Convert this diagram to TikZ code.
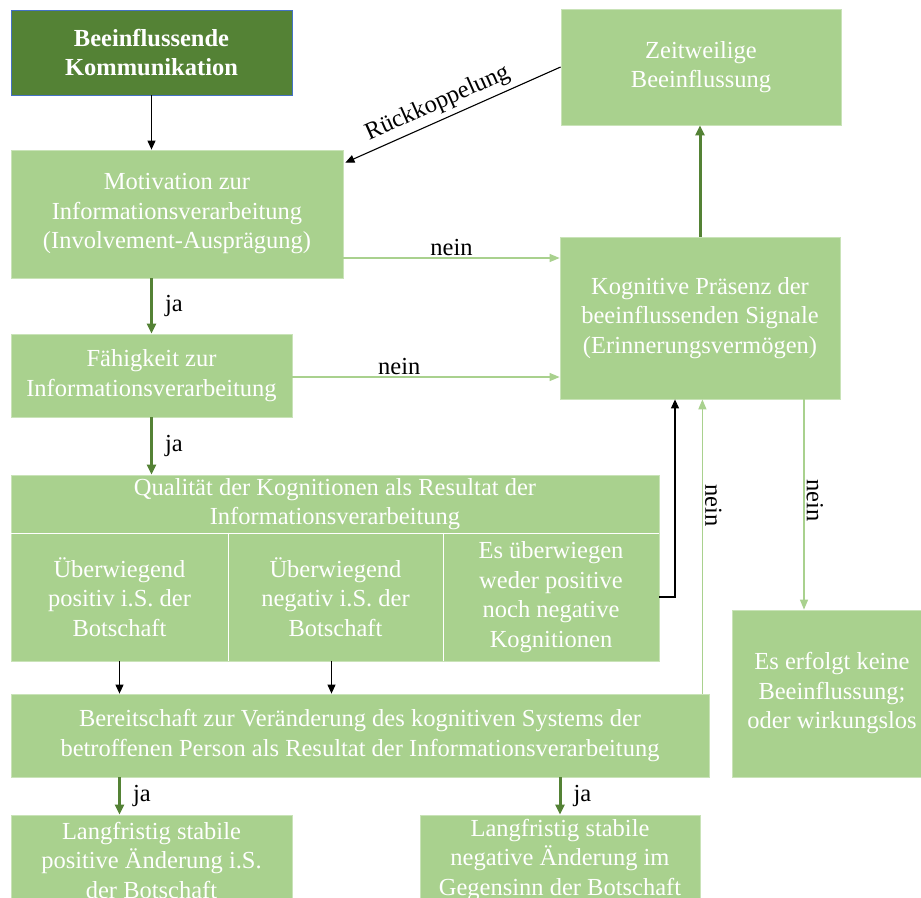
\documentclass[tikz,border=0pt]{standalone}
\usepackage{fontspec}
\setmainfont{Liberation Serif}
\usetikzlibrary{arrows.meta,calc}
\definecolor{lg}{HTML}{A9D18E}
\definecolor{dg}{HTML}{548235}
\definecolor{bl}{HTML}{4472C4}
\definecolor{edge}{HTML}{C9E3B8}
\begin{document}
\begin{tikzpicture}[x=1pt,y=-1pt,
  font=\fontsize{24.5}{29.5}\selectfont,
  box/.style={rectangle, fill=lg, draw=edge, line width=0.8pt, text=white, align=center, inner sep=0pt},
  blk/.style={-{Triangle[length=9pt,width=8pt]}, line width=1.1pt, black},
  yes/.style={-{Triangle[length=10pt,width=9pt]}, line width=3pt, dg},
  no/.style={-{Triangle[length=10pt,width=8pt]}, line width=1.3pt, lg},
  lab/.style={text=black, inner sep=2pt}]
\path[use as bounding box] (0,0) rectangle (921,897);
\clip (0,0) rectangle (921,897);
\fill[white] (0,0) rectangle (921,897);

\node[box, fill=dg, draw=bl, font=\fontsize{24.5}{28.5}\selectfont\bfseries,
      minimum width=281pt, minimum height=85pt] (bk) at (151.5,52.5) {Beeinflussende\\Kommunikation};
\node[box, minimum width=332pt, minimum height=128pt] (mot) at (177,214)
  {Motivation zur\\Informationsverarbeitung\\(Involvement-Ausprägung)};
\node[box, minimum width=280pt, minimum height=116pt] (zeit) at (701,67)
  {Zeitweilige\\Beeinflussung};
\node[box, minimum width=280pt, minimum height=162pt] (kog) at (700,318)
  {Kognitive Präsenz der\\beeinflussenden Signale\\(Erinnerungsvermögen)};
\node[box, minimum width=281pt, minimum height=83pt] (fae) at (151.5,375.5)
  {Fähigkeit zur\\Informationsverarbeitung};
\node[box, minimum width=648pt, minimum height=58pt] (qual) at (335,504)
  {Qualität der Kognitionen als Resultat der\\Informationsverarbeitung};
\node[box, minimum width=217pt, minimum height=128pt] (q1) at (119.5,597)
  {Überwiegend\\positiv i.S. der\\Botschaft};
\node[box, minimum width=215pt, minimum height=128pt] (q2) at (335.5,597)
  {Überwiegend\\negativ i.S. der\\Botschaft};
\node[box, minimum width=216pt, minimum height=128pt] (q3) at (551,597)
  {Es überwiegen\\weder positive\\noch negative\\Kognitionen};
\draw[white, line width=1pt] (qual.south west) -- (qual.south east);
\draw[white, line width=1pt] (q1.north east) -- (q1.south east);
\draw[white, line width=1pt] (q2.north east) -- (q2.south east);
\node[box, minimum width=698pt, minimum height=83pt] (ber) at (360,735.5)
  {Bereitschaft zur Veränderung des kognitiven Systems der\\betroffenen Person als Resultat der Informationsverarbeitung};
\node[box, minimum width=281pt, minimum height=90pt] (lpos) at (151.5,860)
  {Langfristig stabile\\positive Änderung i.S.\\der Botschaft};
\node[box, minimum width=280pt, minimum height=90pt] (lneg) at (560,860)
  {Langfristig stabile\\negative Änderung im\\Gegensinn der Botschaft};
\node[box, minimum width=200pt, minimum height=167pt] (kein) at (832,693.5)
  {Es erfolgt keine\\Beeinflussung;\\oder wirkungslos};

% connectors
\draw[blk] (bk.south) -- (bk.south |- mot.north);
\draw[blk] (zeit.west) -- ([xshift=2pt,yshift=-13pt]mot.north east)
  node[pos=0.54, sloped, above=3pt, lab] {Rückkoppelung};
\draw[no] ([yshift=-44pt]mot.east) coordinate (a1) -- (a1 -| kog.west)
  node[midway, above, lab] {nein};
\draw[no] ([yshift=-1.5pt]fae.east) coordinate (a2) -- (a2 -| kog.west)
  node[pos=0.4, above, lab] {nein};
\draw[yes] (fae.north |- mot.south) -- (fae.north) node[midway, right=10pt, lab] {ja};
\draw[yes] (fae.south) -- (fae.south |- qual.north) node[midway, right=10pt, lab] {ja};
\draw[yes] (kog.north) -- (kog.north |- zeit.south);
\draw[blk] (q3.east) -| ([xshift=-25pt]kog.south);
\draw[no] ([xshift=-7pt]ber.north east) coordinate (b1) -- (b1 |- kog.south)
  node[pos=0.64, rotate=-90, anchor=south, lab] {nein};
\draw[no] ([xshift=104pt]kog.south) coordinate (c1) -- (c1 |- kein.north)
  node[pos=0.48, rotate=-90, anchor=south, lab] {nein};
\draw[blk] (q1.south) -- (q1.south |- ber.north);
\draw[blk] ([xshift=-4pt]q2.south) coordinate (d1) -- (d1 |- ber.north);
\draw[yes] (q1.south |- ber.south) -- (q1.south |- lpos.north) node[midway, right=10pt, lab] {ja};
\draw[yes] (lneg.north |- ber.south) -- (lneg.north) node[midway, right=10pt, lab] {ja};
\end{tikzpicture}
\end{document}
